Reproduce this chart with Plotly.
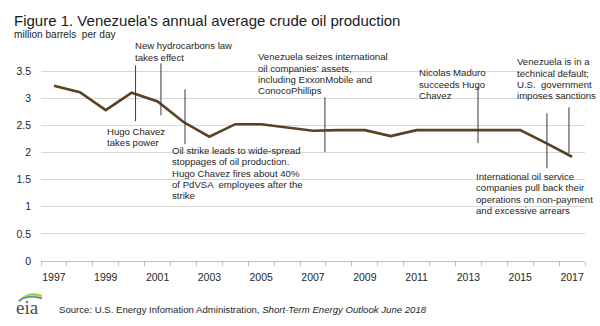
import plotly.graph_objects as go

# Annual average crude oil production, million barrels per day
years = list(range(1997, 2018))
production = [3.23, 3.11, 2.78, 3.10, 2.94, 2.56, 2.29, 2.52, 2.52, 2.46, 2.40,
              2.41, 2.41, 2.30, 2.41, 2.41, 2.41, 2.41, 2.41, 2.17, 1.92]

y_ticks = [0, 0.5, 1, 1.5, 2, 2.5, 3, 3.5]
y_ticktext = ["0", "0.5", "1", "1.5", "2", "2.5", "3", "3.5"]
x_ticks = list(range(1997, 2018, 2))

# Event call-outs: year the marker points at, and the call-out text
event_years = [2000.15, 2001.13, 2002.06, 2007.46, 2013.37, 2016.88, 2016.03]
event_texts = [
    ["Hugo Chavez", "takes power"],
    ["New hydrocarbons law", "takes effect"],
    ["Oil strike leads to wide-spread", "stoppages of oil production.",
     "Hugo Chavez fires about 40%", "of PdVSA  employees after the", "strike"],
    ["Venezuela seizes international", "oil companies' assets,",
     "including ExxonMobile and", "ConocoPhillips"],
    ["Nicolas Maduro", "succeeds Hugo", "Chavez"],
    ["Venezuela is in a", "technical default;", "U.S.  government",
     "imposes sanctions"],
    ["International oil service", "companies pull back their",
     "operations on non-payment", "and excessive arrears"],
]

# Layout geometry (pixels in a 600x326 canvas)
W, H = 600, 326
L, R = 41, 585
Y0_PX, Y35_PX = 261, 70.7
PX_PER_UNIT = (Y0_PX - Y35_PX) / 3.5
Y_TOP = 3.85
T = Y0_PX - Y_TOP * PX_PER_UNIT


def yv(py):
    return (Y0_PX - py) / PX_PER_UNIT


def pxp(px):
    return (px - L) / (R - L)


def pyp(py):
    return (Y0_PX - py) / (Y0_PX - T)


# marker line top/bottom (px), text left (px), first text line centre (px)
event_layout = [
    (65, 121, 105, 131),
    (63, 115, 133, 45.5),
    (89, 144, 170, 150.5),
    (97, 152, 256, 56.5),
    (87, 143, 417, 72.5),
    (107, 153, 515, 61.5),
    (113, 168, 474, 176.5),
]
LINE_STEP = 11.3

TEXT_FONT = dict(family="Liberation Sans, Arial, sans-serif", size=9.6, color="#262626")

fig = go.Figure()
fig.add_trace(go.Scatter(
    x=years, y=production, mode="lines",
    line=dict(color="#5b4122", width=2.6),
    hoverinfo="x+y", showlegend=False,
))

shapes = []
annotations = []
for ex, lines, (top, bot, tx, ty) in zip(event_years, event_texts, event_layout):
    shapes.append(dict(type="line", xref="x", yref="y", x0=ex, x1=ex,
                       y0=yv(top), y1=yv(bot),
                       line=dict(color="#3a3a3a", width=1)))
    for i, t in enumerate(lines):
        annotations.append(dict(
            xref="paper", yref="paper", x=pxp(tx), y=pyp(ty + i * LINE_STEP),
            xanchor="left", yanchor="middle", text=t, showarrow=False,
            font=TEXT_FONT,
        ))

# Title, unit label and source line
annotations += [
    dict(xref="paper", yref="paper", x=pxp(12), y=pyp(20), xanchor="left",
         yanchor="middle", showarrow=False,
         text="Figure 1. Venezuela's annual average crude oil production",
         font=dict(family="Liberation Sans, Arial, sans-serif", size=15, color="#1a1a1a")),
    dict(xref="paper", yref="paper", x=pxp(12), y=pyp(34.5), xanchor="left",
         yanchor="middle", showarrow=False, text="million barrels  per day",
         font=dict(family="Liberation Sans, Arial, sans-serif", size=10.1, color="#262626")),
    dict(xref="paper", yref="paper", x=pxp(57), y=pyp(309.5), xanchor="left",
         yanchor="middle", showarrow=False,
         text="Source: U.S. Energy Infomation Administration, <i>Short-Term Energy Outlook June 2018</i>",
         font=dict(family="Liberation Sans, Arial, sans-serif", size=9.6, color="#262626")),
    dict(xref="paper", yref="paper", x=pxp(14), y=pyp(308), xanchor="left",
         yanchor="middle", showarrow=False, text="eia",
         font=dict(family="Liberation Serif, DejaVu Serif, serif", size=19, color="#4d4d4d")),
]

# Logo swooshes above the letters
for col, dy in (("#9cc63b", 0), ("#f2c12e", 2.2), ("#2f8fce", 4.2)):
    shapes.append(dict(
        type="path", xref="paper", yref="paper",
        path=(f"M {pxp(19)} {pyp(302 - dy * 0.3)} "
              f"Q {pxp(28)} {pyp(290 + dy)} {pxp(42)} {pyp(296 + dy * 0.6)}"),
        line=dict(color=col, width=1.6),
    ))

fig.update_layout(
    width=W, height=H,
    margin=dict(l=L, r=W - R, t=T, b=H - Y0_PX, pad=0),
    paper_bgcolor="white", plot_bgcolor="white",
    font=dict(family="Liberation Sans, Arial, sans-serif", color="#262626"),
    shapes=shapes, annotations=annotations,
    xaxis=dict(
        range=[1996.5, 2017.5], tickvals=x_ticks,
        ticktext=[str(v) for v in x_ticks],
        showgrid=False, zeroline=False, showline=True,
        linecolor="#bfbfbf", linewidth=1, ticks="", ticklabelstandoff=6,
        tickfont=dict(size=10.5, color="#262626"),
        minor=dict(tickvals=[1996.5 + i for i in range(22)], ticks="outside",
                   ticklen=4, tickcolor="#bfbfbf", showgrid=False),
        fixedrange=True,
    ),
    yaxis=dict(
        range=[0, Y_TOP], tickvals=y_ticks, ticktext=y_ticktext,
        showgrid=True, gridcolor="#d9d9d9", gridwidth=1,
        zeroline=False, showline=False, ticks="", ticklabelstandoff=9,
        tickfont=dict(size=10.5, color="#262626"),
        fixedrange=True,
    ),
)

fig.write_html("out.html")
